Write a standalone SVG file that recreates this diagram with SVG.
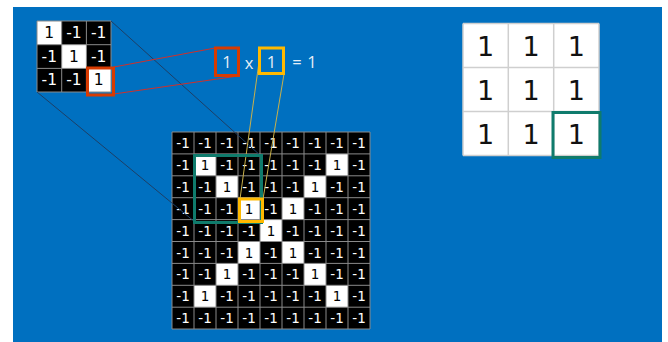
<svg xmlns="http://www.w3.org/2000/svg" width="668" height="342" viewBox="0 0 668 342">
<style>
.g text{font-family:"DejaVu Sans","Liberation Sans",sans-serif;text-anchor:middle;dominant-baseline:central}
.big text{font-size:13.5px;fill:#fff}
.big text.w{fill:#000}
.small text{font-size:15.5px;fill:#fff}
.small text.w{fill:#000}
.res text{font-size:27px;fill:#111}
.gl{stroke:#8a8a8a;stroke-width:1}
.rl{stroke:#cfcfcf;stroke-width:1.5}
.eq{font-family:"Open Sans","Liberation Sans",sans-serif;font-size:16.5px;fill:#e6eef6;text-anchor:middle;dominant-baseline:central}
.hl{fill:none;stroke-width:3}
</style>
<rect x="13" y="7" width="649" height="335" fill="#0070C0"/>

<g id="kernel" class="g small">
<rect x="37" y="21" width="74" height="71" fill="#000"/>
<rect x="37" y="21" width="24.7" height="23.7" fill="#fff"/>
<rect x="61.7" y="44.7" width="24.7" height="23.7" fill="#fff"/>
<rect x="86.4" y="68.4" width="24.6" height="23.6" fill="#fff"/>
<path class="gl" d="M37 21V92M61.7 21V92M86.4 21V92M111 21V92M37 21H111M37 44.7H111M37 68.4H111M37 92H111" fill="none"/>
<text x="49.3" y="32.8" class="w">1</text><text x="74" y="32.8">-1</text><text x="98.7" y="32.8">-1</text>
<text x="49.3" y="56.5">-1</text><text x="74" y="56.5" class="w">1</text><text x="98.7" y="56.5">-1</text>
<text x="49.3" y="80.2">-1</text><text x="74" y="80.2">-1</text><text x="98.7" y="80.2" class="w">1</text>
</g>

<g id="image" class="g big">
<rect x="172" y="132" width="198" height="197" fill="#000"/>
<g fill="#fff">
<rect x="194" y="153.9" width="22" height="21.9"/><rect x="326" y="153.9" width="22" height="21.9"/>
<rect x="216" y="175.8" width="22" height="21.9"/><rect x="304" y="175.8" width="22" height="21.9"/>
<rect x="238" y="197.7" width="22" height="21.9"/><rect x="282" y="197.7" width="22" height="21.9"/>
<rect x="260" y="219.6" width="22" height="21.9"/>
<rect x="238" y="241.5" width="22" height="21.9"/><rect x="282" y="241.5" width="22" height="21.9"/>
<rect x="216" y="263.4" width="22" height="21.9"/><rect x="304" y="263.4" width="22" height="21.9"/>
<rect x="194" y="285.3" width="22" height="21.9"/><rect x="326" y="285.3" width="22" height="21.9"/>
</g>
<path class="gl" fill="none" d="M172 132V329M194 132V329M216 132V329M238 132V329M260 132V329M282 132V329M304 132V329M326 132V329M348 132V329M370 132V329M172 132H370M172 153.9H370M172 175.8H370M172 197.7H370M172 219.6H370M172 241.5H370M172 263.4H370M172 285.3H370M172 307.2H370M172 329H370"/>
<text x="183" y="143">-1</text><text x="205" y="143">-1</text><text x="227" y="143">-1</text><text x="249" y="143">-1</text><text x="271" y="143">-1</text><text x="293" y="143">-1</text><text x="315" y="143">-1</text><text x="337" y="143">-1</text><text x="359" y="143">-1</text>
<text x="183" y="165">-1</text><text x="205" y="165" class="w">1</text><text x="227" y="165">-1</text><text x="249" y="165">-1</text><text x="271" y="165">-1</text><text x="293" y="165">-1</text><text x="315" y="165">-1</text><text x="337" y="165" class="w">1</text><text x="359" y="165">-1</text>
<text x="183" y="187">-1</text><text x="205" y="187">-1</text><text x="227" y="187" class="w">1</text><text x="249" y="187">-1</text><text x="271" y="187">-1</text><text x="293" y="187">-1</text><text x="315" y="187" class="w">1</text><text x="337" y="187">-1</text><text x="359" y="187">-1</text>
<text x="183" y="209">-1</text><text x="205" y="209">-1</text><text x="227" y="209">-1</text><text x="249" y="209" class="w">1</text><text x="271" y="209">-1</text><text x="293" y="209" class="w">1</text><text x="315" y="209">-1</text><text x="337" y="209">-1</text><text x="359" y="209">-1</text>
<text x="183" y="231">-1</text><text x="205" y="231">-1</text><text x="227" y="231">-1</text><text x="249" y="231">-1</text><text x="271" y="231" class="w">1</text><text x="293" y="231">-1</text><text x="315" y="231">-1</text><text x="337" y="231">-1</text><text x="359" y="231">-1</text>
<text x="183" y="252.5">-1</text><text x="205" y="252.5">-1</text><text x="227" y="252.5">-1</text><text x="249" y="252.5" class="w">1</text><text x="271" y="252.5">-1</text><text x="293" y="252.5" class="w">1</text><text x="315" y="252.5">-1</text><text x="337" y="252.5">-1</text><text x="359" y="252.5">-1</text>
<text x="183" y="274.4">-1</text><text x="205" y="274.4">-1</text><text x="227" y="274.4" class="w">1</text><text x="249" y="274.4">-1</text><text x="271" y="274.4">-1</text><text x="293" y="274.4">-1</text><text x="315" y="274.4" class="w">1</text><text x="337" y="274.4">-1</text><text x="359" y="274.4">-1</text>
<text x="183" y="296.3">-1</text><text x="205" y="296.3" class="w">1</text><text x="227" y="296.3">-1</text><text x="249" y="296.3">-1</text><text x="271" y="296.3">-1</text><text x="293" y="296.3">-1</text><text x="315" y="296.3">-1</text><text x="337" y="296.3" class="w">1</text><text x="359" y="296.3">-1</text>
<text x="183" y="318.2">-1</text><text x="205" y="318.2">-1</text><text x="227" y="318.2">-1</text><text x="249" y="318.2">-1</text><text x="271" y="318.2">-1</text><text x="293" y="318.2">-1</text><text x="315" y="318.2">-1</text><text x="337" y="318.2">-1</text><text x="359" y="318.2">-1</text>
</g>

<g id="result" class="g res">
<rect x="463" y="23.5" width="136" height="132" fill="#fff"/>
<path class="rl" fill="none" d="M463 23.5V155.5M508.3 23.5V155.5M553.7 23.5V155.5M599 23.5V155.5M463 23.5H599M463 67.5H599M463 111.5H599M463 155.5H599"/>
<text x="485.7" y="46">1</text><text x="531" y="46">1</text><text x="576.3" y="46">1</text>
<text x="485.7" y="90">1</text><text x="531" y="90">1</text><text x="576.3" y="90">1</text>
<text x="485.7" y="134">1</text><text x="531" y="134">1</text><text x="576.3" y="134">1</text>
</g>

<g id="connectors" fill="none" stroke-width="1">
<line x1="111" y1="21" x2="261" y2="156" stroke="#1d3f66"/>
<line x1="37" y1="92" x2="195" y2="222" stroke="#1d3f66"/>
<line x1="114" y1="67" x2="215" y2="48" stroke="#d0302a"/>
<line x1="100" y1="96" x2="238" y2="76" stroke="#d0302a"/>
<line x1="259" y1="62" x2="240" y2="199" stroke="#c9b04a"/>
<line x1="284" y1="74" x2="263" y2="199" stroke="#c9b04a"/>
</g>

<g id="highlights">
<rect class="hl" x="87.5" y="68" width="26" height="27" stroke="#D83B01"/>
<rect class="hl" x="194.5" y="155.5" width="67" height="67" stroke="#0F7B6C"/>
<rect class="hl" x="239.5" y="199" width="23" height="22.5" stroke="#FFB900"/>
<rect class="hl" x="553" y="112.5" width="47" height="45" stroke="#0F7B6C" stroke-width="3.5"/>
</g>

<g id="equation">
<rect class="hl" x="215.5" y="48" width="23" height="27.5" stroke="#D83B01"/>
<rect class="hl" x="259.5" y="48" width="24" height="25.5" stroke="#FFB900"/>
<text class="eq" x="227" y="61.5">1</text>
<text class="eq" x="249" y="62.5">x</text>
<text class="eq" x="271.5" y="61.5">1</text>
<text class="eq" x="297" y="61.5">=</text>
<text class="eq" x="312" y="61.5">1</text>
</g>
</svg>
